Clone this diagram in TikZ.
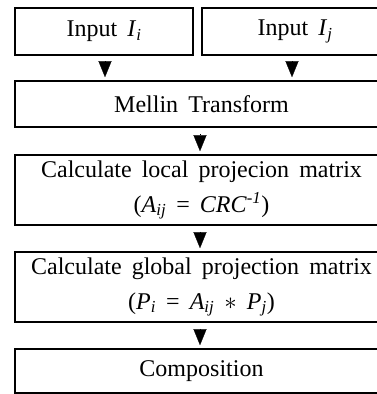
\documentclass[tikz,border=0pt]{standalone}
\usepackage{fontspec}
\setmainfont{Liberation Serif}
\usetikzlibrary{arrows.meta}
\newcommand{\widespaces}{\spaceskip=0.42em plus 0.1em\relax}
\tikzset{
  stepbox/.style={draw, line width=1.6pt, rectangle, inner sep=0pt, align=center,
    font=\fontsize{24}{35}\selectfont, execute at begin node=\widespaces},
  flow/.style={line width=0.2pt, -{Triangle[length=16pt,width=13pt]}, shorten <=6pt, shorten >=3pt}
}
\begin{document}
\begin{tikzpicture}[x=1pt,y=-1pt]
\clip (0,0) rectangle (377,394);
\fill[white] (0,0) rectangle (377,394);
\node[stepbox, minimum width=178pt, minimum height=47pt] (in1) at (104,31.5) {Input \textit{I}\textsubscript{\textit{i}}};
\node[stepbox, minimum width=186pt, minimum height=47pt] (in2) at (295,31.5) {Input \textit{I}\textsubscript{\textit{j}}};
\node[stepbox, minimum width=373pt, minimum height=46pt] (mel) at (201.5,104) {Mellin Transform};
\node[stepbox, minimum width=373pt, minimum height=70pt] (loc) at (201.5,190) {Calculate local projecion matrix\\(\textit{A}\textsubscript{\textit{ij}} = \textit{CRC}\textsuperscript{\textit{-1}})};
\node[stepbox, minimum width=373pt, minimum height=70pt] (glo) at (201.5,287) {Calculate global projection matrix\\(\textit{P}\textsubscript{\textit{i}} = \textit{A}\textsubscript{\textit{ij}} $\ast$ \textit{P}\textsubscript{\textit{j}})};
\node[stepbox, minimum width=373pt, minimum height=44pt] (comp) at (201.5,371) {Composition};
\draw[flow] ([xshift=1pt]in1.south) -- ([xshift=1pt]in1.south |- mel.north);
\draw[flow] ([xshift=-3pt]in2.south) -- ([xshift=-3pt]in2.south |- mel.north);
\draw[flow] ([xshift=-1.5pt]mel.south) -- ([xshift=-1.5pt]loc.north);
\draw[flow] ([xshift=-1.5pt]loc.south) -- ([xshift=-1.5pt]glo.north);
\draw[flow] ([xshift=-1.5pt]glo.south) -- ([xshift=-1.5pt]comp.north);
\end{tikzpicture}
\end{document}
